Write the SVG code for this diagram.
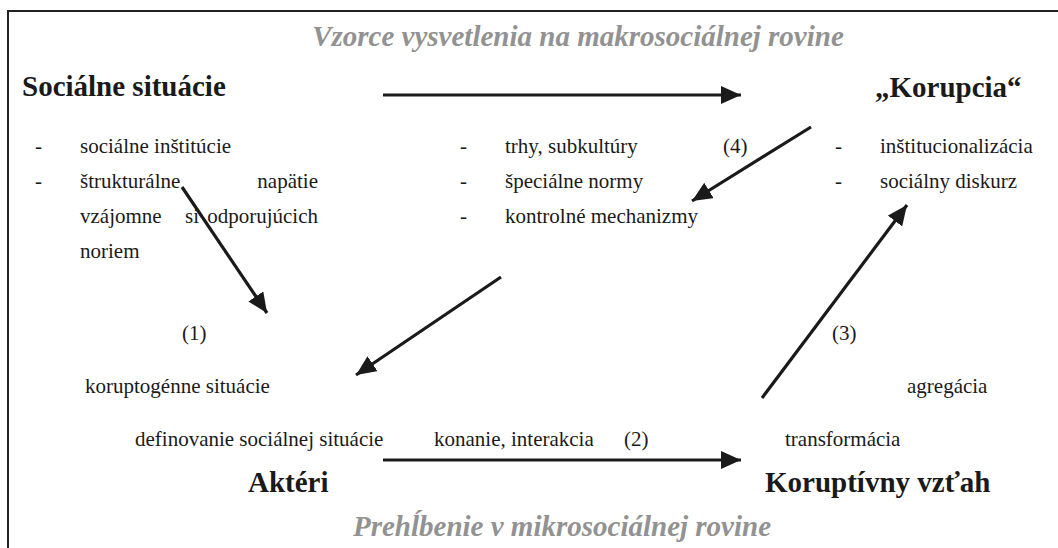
<svg xmlns="http://www.w3.org/2000/svg" width="1058" height="548" viewBox="0 0 1058 548">
<style>
text{font-family:'Liberation Serif','DejaVu Serif',serif}
.t{font-size:21px;fill:#1a1a1a}
.b{font-size:29px;font-weight:bold;fill:#1a1a1a}
.h{font-size:29px;font-weight:bold;font-style:italic;fill:#929292}
.a{stroke:#1a1a1a;stroke-width:3.2;fill:none;marker-end:url(#ah)}
</style>
<defs>
<marker id="ah" markerUnits="userSpaceOnUse" markerWidth="22" markerHeight="18" refX="20" refY="9" orient="auto">
<path d="M0,0 L20,9 L0,18 Z" fill="#1a1a1a"/>
</marker>
</defs>
<g id="frame" stroke="#222" stroke-width="2" fill="none">
<path d="M8,548 L8,11 L1058,11"/>
</g>
<g id="macro-title"><text class="h" x="578" y="46" text-anchor="middle">Vzorce vysvetlenia na makrosociálnej rovine</text></g>
<g id="micro-title"><text class="h" x="562" y="536" text-anchor="middle">Prehĺbenie v mikrosociálnej rovine</text></g>
<g id="socialne-situacie">
<text class="b" x="22" y="96">Sociálne situácie</text>
<text class="t" x="35" y="153">-</text><text class="t" x="80" y="153">sociálne inštitúcie</text>
<text class="t" x="35" y="188">-</text><text class="t" x="80" y="188">štrukturálne</text><text class="t" x="318" y="188" text-anchor="end">napätie</text>
<text class="t" x="80" y="223">vzájomne</text><text class="t" x="185" y="223">si</text><text class="t" x="318" y="223" text-anchor="end">odporujúcich</text>
<text class="t" x="80" y="258">noriem</text>
</g>
<g id="korupcia">
<text class="b" x="875" y="97">„Korupcia“</text>
<text class="t" x="835" y="153">-</text><text class="t" x="880" y="153">inštitucionalizácia</text>
<text class="t" x="835" y="188">-</text><text class="t" x="880" y="188">sociálny diskurz</text>
</g>
<g id="mechanizmy">
<text class="t" x="460" y="153">-</text><text class="t" x="505" y="153">trhy, subkultúry</text>
<text class="t" x="460" y="188">-</text><text class="t" x="505" y="188">špeciálne normy</text>
<text class="t" x="460" y="223">-</text><text class="t" x="505" y="223">kontrolné mechanizmy</text>
</g>
<g id="aktori">
<text class="t" x="85" y="393">koruptogénne situácie</text>
<text class="t" x="135" y="446">definovanie sociálnej situácie</text>
<text class="b" x="248" y="492">Aktéri</text>
</g>
<g id="koruptivny-vztah">
<text class="t" x="907" y="393">agregácia</text>
<text class="t" x="785" y="446">transformácia</text>
<text class="b" x="765" y="492">Koruptívny vzťah</text>
</g>
<g id="labels">
<text class="t" x="182" y="340">(1)</text>
<text class="t" x="434" y="446">konanie, interakcia</text>
<text class="t" x="624" y="446">(2)</text>
<text class="t" x="832" y="340">(3)</text>
<text class="t" x="723" y="153">(4)</text>
</g>
<g id="connectors">
<line class="a" x1="383" y1="95" x2="741" y2="95"/>
<line class="a" x1="383" y1="460" x2="741" y2="460"/>
<line class="a" x1="182" y1="187" x2="267" y2="313"/>
<line class="a" x1="811" y1="127" x2="692" y2="201"/>
<line class="a" x1="501" y1="277" x2="356" y2="375"/>
<line class="a" x1="762" y1="398" x2="907" y2="205"/>
</g>
</svg>
